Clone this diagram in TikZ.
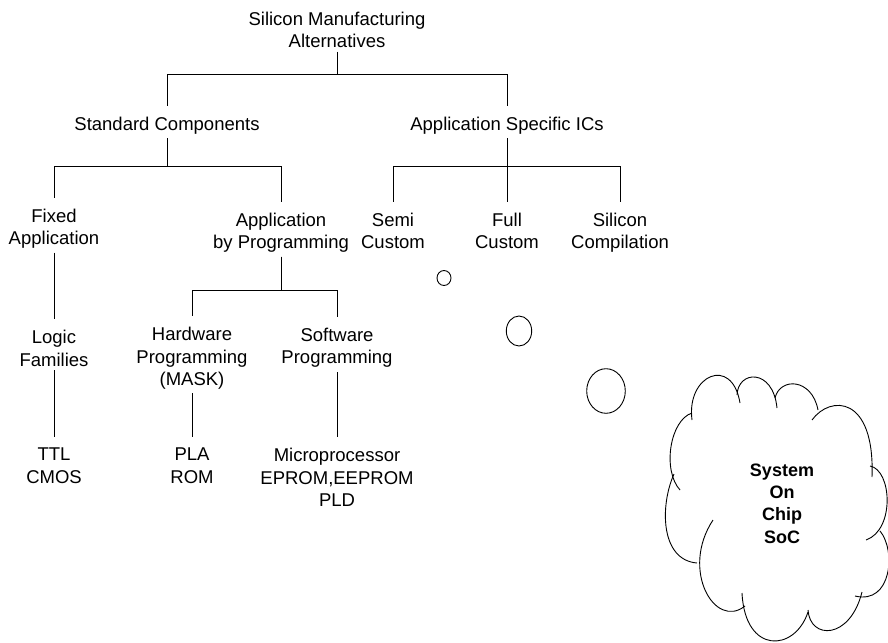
\documentclass[tikz,border=0pt]{standalone}
\usepackage{fontspec}
\setmainfont{Liberation Sans}
\begin{document}
\begin{tikzpicture}[x=1pt,y=-1pt,
  label/.style={align=center, inner sep=0pt, anchor=north,
                font=\fontsize{18.5}{22.4}\selectfont},
  link/.style={line width=1pt, shorten <=4pt, shorten >=11pt},
  thought/.style={line width=0.9pt}]
\useasboundingbox (0,0) rectangle (888,642);

% tree nodes
\node[label] (root)  at (337,11.5)  {Silicon Manufacturing\\Alternatives};
\node[label] (std)   at (167,116.5) {Standard Components};
\node[label] (asic)  at (507,116.5) {Application Specific ICs};
\node[label] (fixed) at (54,208.5)  {Fixed\\Application};
\node[label] (abp)   at (281,212.5) {Application\\by Programming};
\node[label] (semi)  at (393,212.5) {Semi\\Custom};
\node[label] (full)  at (507,212.5) {Full\\Custom};
\node[label] (silc)  at (620,212.5) {Silicon\\Compilation};
\node[label] (logic) at (54,330)    {Logic\\Families};
\node[label] (hw)    at (192,327)   {Hardware\\Programming\\(MASK)};
\node[label] (sw)    at (337,328)   {Software\\Programming};
\node[label] (ttl)   at (54,448)    {TTL\\CMOS};
\node[label] (pla)   at (192,448)   {PLA\\ROM};
\node[label] (micro) at (337,448)   {Microprocessor\\EPROM,EEPROM\\PLD};

% levels of the horizontal branch lines
\coordinate (bus0) at (0,74);
\coordinate (bus1) at (0,166);
\coordinate (bus2) at (0,290);

% branches
\draw[link] (root.south) -- (root.south |- bus0) -| (std.north);
\draw[link] (root.south) -- (root.south |- bus0) -| (asic.north);
\draw[link] (std.south) -- (std.south |- bus1) -| (fixed.north);
\draw[link] (std.south) -- (std.south |- bus1) -| (abp.north);
\draw[link] (asic.south) -- (full.north);
\draw[link] (asic.south) -- (asic.south |- bus1) -| (semi.north);
\draw[link] (asic.south) -- (asic.south |- bus1) -| (silc.north);
\draw[link] (fixed.south) -- (logic.north);
\draw[link] (abp.south) -- (abp.south |- bus2) -| (hw.north);
\draw[link] (abp.south) -- (abp.south |- bus2) -| (sw.north);
\draw[link] (logic.south) -- (ttl.north);
\draw[link] (hw.south) -- (pla.north);
\draw[link] (sw.south) -- (micro.north);

% thought bubbles
\draw[thought] (444,278) ellipse [x radius=7, y radius=7.5];
\draw[thought] (519,331) ellipse [x radius=12.7, y radius=15];
\draw[thought] (606,391) ellipse [x radius=19.3, y radius=22.3];

% cloud, one puff at a time
\draw[thought] (692,420) .. controls (686,375) and (732,355) .. (740,403);
\draw[thought] (737,395) .. controls (738,370) and (773,368) .. (777,408);
\draw[thought] (775,398) .. controls (780,377) and (812,378) .. (818,410);
\draw[thought] (812,420) .. controls (830,395) and (875,395) .. (872,477);
\draw[thought] (870,466) .. controls (892,470) and (895,530) .. (866,540);
\draw[thought] (880,531) .. controls (896,550) and (892,605) .. (855,596);
\draw[thought] (862,592) .. controls (850,640) and (810,640) .. (808,610);
\draw[thought] (808,612) .. controls (795,652) and (745,655) .. (742,593);
\draw[thought] (745,606) .. controls (715,630) and (680,570) .. (713,520);
\draw[thought] (674,474) .. controls (660,505) and (660,560) .. (697,563);
\draw[thought] (692,413) .. controls (670,420) and (662,470) .. (680,490);

\node[label, font=\bfseries\fontsize{18}{22.3}\selectfont] (soc) at (782,463.5)
  {System\\On\\Chip\\SoC};
\end{tikzpicture}
\end{document}
